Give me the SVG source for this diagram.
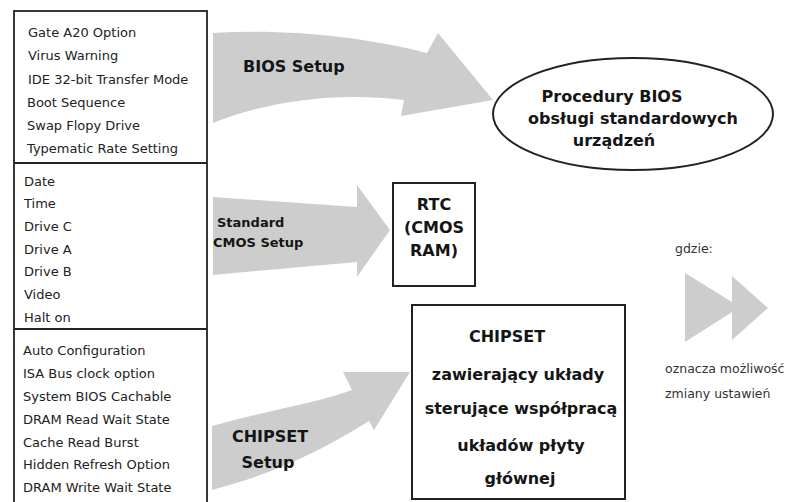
<svg xmlns="http://www.w3.org/2000/svg" width="798" height="502" viewBox="0 0 798 502">
<style>
.item{font-family:"DejaVu Sans","Liberation Sans",sans-serif;font-size:13px;fill:#222}
.lbl{font-family:"DejaVu Sans","Liberation Sans",sans-serif;font-weight:bold;fill:#151515}
.arrow{fill:#cdcdcd}
.box{fill:#fff;stroke:#222;stroke-width:2}
.leg{font-family:"DejaVu Sans","Liberation Sans",sans-serif;font-size:12.5px;fill:#333}
</style>
<rect width="798" height="502" fill="#fff"/>
<g id="connectors">
  <g id="arrow-bios">
    <path class="arrow" d="M213 33 C290 28 370 38 427 53 L438 33 L493 100 L401 116 L404 100 C340 92 270 100 213 123 Z"/>
    <text class="lbl" font-size="16" x="243" y="72">BIOS Setup</text>
  </g>
  <g id="arrow-cmos">
    <path class="arrow" d="M213 197 L357 207 L357 185 L390 230 L357 277 L357 262 L213 275 Z"/>
    <text class="lbl" font-size="13" x="217" y="227">Standard</text>
    <text class="lbl" font-size="13" x="213" y="247">CMOS Setup</text>
  </g>
  <g id="arrow-chipset">
    <path class="arrow" d="M212 426 C270 410 320 402 352 390 L343 372 L410 372 L374 430 L369 421 C320 452 270 475 212 490 Z"/>
    <text class="lbl" font-size="16" x="270" y="442" text-anchor="middle">CHIPSET</text>
    <text class="lbl" font-size="16" x="268" y="468" text-anchor="middle">Setup</text>
  </g>
</g>
<g id="settings-panel">
  <rect x="14" y="11" width="193" height="500" fill="#fff" stroke="#222" stroke-width="1.8"/>
  <line x1="14" y1="163" x2="207" y2="163" stroke="#222" stroke-width="2"/>
  <line x1="14" y1="329" x2="207" y2="329" stroke="#222" stroke-width="2"/>
  <g id="bios-items">
    <text class="item" x="28" y="37">Gate A20 Option</text>
    <text class="item" x="28" y="60">Virus Warning</text>
    <text class="item" x="28" y="84">IDE 32-bit Transfer Mode</text>
    <text class="item" x="27" y="107">Boot Sequence</text>
    <text class="item" x="27" y="130">Swap Flopy Drive</text>
    <text class="item" x="27" y="153">Typematic Rate Setting</text>
  </g>
  <g id="cmos-items">
    <text class="item" x="24" y="186">Date</text>
    <text class="item" x="24" y="208">Time</text>
    <text class="item" x="24" y="231">Drive C</text>
    <text class="item" x="24" y="254">Drive A</text>
    <text class="item" x="24" y="276">Drive B</text>
    <text class="item" x="24" y="299">Video</text>
    <text class="item" x="24" y="322">Halt on</text>
  </g>
  <g id="chipset-items">
    <text class="item" x="23" y="355">Auto Configuration</text>
    <text class="item" x="23" y="378">ISA Bus clock option</text>
    <text class="item" x="23" y="401">System BIOS Cachable</text>
    <text class="item" x="23" y="424">DRAM Read Wait State</text>
    <text class="item" x="23" y="447">Cache Read Burst</text>
    <text class="item" x="23" y="469">Hidden Refresh Option</text>
    <text class="item" x="23" y="492">DRAM Write Wait State</text>
  </g>
</g>
<g id="bios-procedures">
  <ellipse class="box" cx="633" cy="114" rx="140" ry="56"/>
  <text class="lbl" font-size="16" x="612" y="102" text-anchor="middle">Procedury BIOS</text>
  <text class="lbl" font-size="16" x="633" y="124" text-anchor="middle">obsługi standardowych</text>
  <text class="lbl" font-size="16" x="614" y="146" text-anchor="middle">urządzeń</text>
</g>
<g id="rtc">
  <rect class="box" x="393" y="183" width="82" height="103"/>
  <text class="lbl" font-size="16" x="434" y="210" text-anchor="middle">RTC</text>
  <text class="lbl" font-size="16" x="434" y="233" text-anchor="middle">(CMOS</text>
  <text class="lbl" font-size="16" x="434" y="256" text-anchor="middle">RAM)</text>
</g>
<g id="chipset">
  <rect class="box" x="412" y="305" width="213" height="194"/>
  <text class="lbl" font-size="16" x="507" y="342" text-anchor="middle">CHIPSET</text>
  <text class="lbl" font-size="16" x="518" y="380" text-anchor="middle">zawierający układy</text>
  <text class="lbl" font-size="16" x="521" y="414" text-anchor="middle">sterujące współpracą</text>
  <text class="lbl" font-size="16" x="521" y="451" text-anchor="middle">układów płyty</text>
  <text class="lbl" font-size="16" x="520" y="484" text-anchor="middle">głównej</text>
</g>
<g id="legend">
  <text class="leg" x="675" y="253">gdzie:</text>
  <polygon class="arrow" points="685,273 740,307 685,342"/>
  <polygon class="arrow" points="732,276 768,308 732,340"/>
  <text class="leg" x="665" y="373">oznacza możliwość</text>
  <text class="leg" x="665" y="398">zmiany ustawień</text>
</g>
</svg>
